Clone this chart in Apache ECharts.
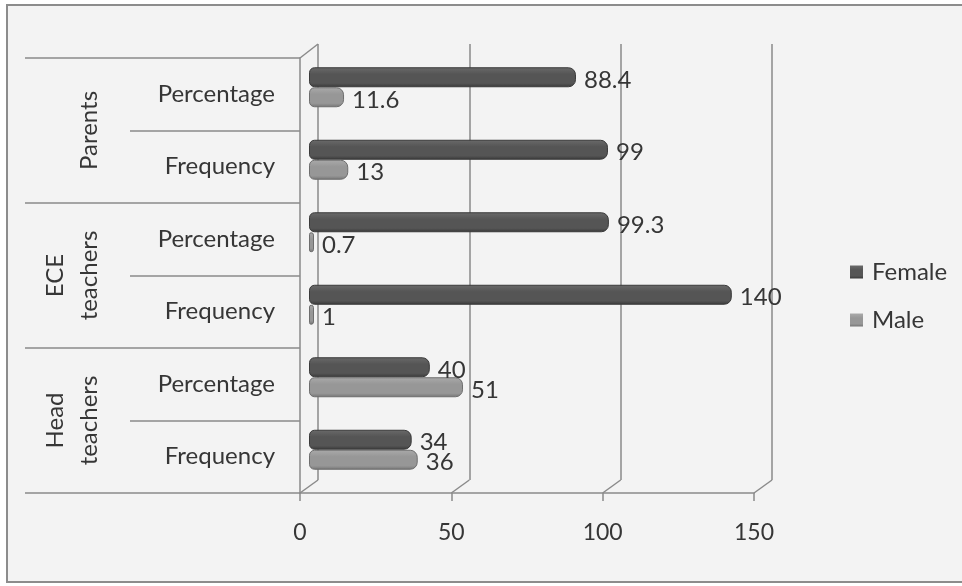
<!DOCTYPE html>
<html>
<head>
<meta charset="utf-8">
<title>Respondents by gender</title>
<script src="https://cdn.jsdelivr.net/npm/echarts@6/dist/echarts.min.js"></script>
<style>
  html, body { margin: 0; padding: 0; background: #ffffff; }
  #chart { width: 962px; height: 586px; }
</style>
</head>
<body>
<div id="chart"></div>
<script>
// Respondent groups (outer axis level) and measures (inner level), bottom to top
const groups = ['Head\nteachers', 'ECE\nteachers', 'Parents'];
const measures = ['Frequency', 'Percentage', 'Frequency', 'Percentage', 'Frequency', 'Percentage'];

// Values per measure row, same order as `measures`
const female = [34, 40, 140, 99.3, 99, 88.4];
const male = [36, 51, 1, 0.7, 13, 11.6];

// Value axis
const axisMin = 0;
const axisMax = 150;
const axisStep = 50;

const FONT = 'Lato, "Open Sans", sans-serif';
const TEXT = '#363636';
const LINE = '#8a8a8a';

const chart = echarts.init(document.getElementById('chart'));

function cylinder(top, mid, bottom) {
  return new echarts.graphic.LinearGradient(0, 0, 0, 1, [
    { offset: 0, color: top },
    { offset: 0.35, color: mid },
    { offset: 0.8, color: mid },
    { offset: 1, color: bottom }
  ]);
}

const valueLabel = {
  show: true,
  position: 'right',
  distance: 8,
  offset: [0, 3],
  fontFamily: FONT,
  fontSize: 24,
  color: TEXT
};

const option = {
  backgroundColor: '#ffffff',
  animation: false,
  grid: [
    // front plane: category labels, separators, value axis labels
    { left: 300, right: 208, top: 58, bottom: 93 },
    // bars
    { left: 309, right: 200, top: 51, bottom: 100 },
    // back wall gridlines
    { left: 318, right: 190, top: 44, bottom: 106 }
  ],
  xAxis: [
    {
      gridIndex: 0, type: 'value', min: axisMin, max: axisMax, interval: axisStep,
      axisLine: { show: true, lineStyle: { color: LINE, width: 1.5 } },
      axisTick: { show: true, length: 8, lineStyle: { color: LINE, width: 1.5 } },
      axisLabel: { margin: 28, fontFamily: FONT, fontSize: 23, color: TEXT },
      splitLine: { show: false }
    },
    {
      gridIndex: 1, type: 'value', min: axisMin, max: axisMax, interval: axisStep,
      show: false
    },
    {
      gridIndex: 2, type: 'value', min: axisMin, max: axisMax, interval: axisStep,
      axisLine: { show: false }, axisTick: { show: false }, axisLabel: { show: false },
      splitLine: { show: true, lineStyle: { color: LINE, width: 1.5 } }
    }
  ],
  yAxis: [
    {
      gridIndex: 0, type: 'category', position: 'left', data: measures,
      axisLine: { show: true, lineStyle: { color: LINE, width: 1.5 } },
      axisTick: { show: true, length: 170, interval: 0, lineStyle: { color: LINE, width: 1.5 } },
      axisLabel: { margin: 25, interval: 0, fontFamily: FONT, fontSize: 24, color: TEXT }
    },
    {
      gridIndex: 0, type: 'category', position: 'left', data: groups,
      axisLine: { show: false },
      axisTick: { show: true, length: 275, interval: 0, lineStyle: { color: LINE, width: 1.5 } },
      axisLabel: {
        margin: 194, interval: 0, rotate: 90, fontFamily: FONT, fontSize: 24,
        color: TEXT, lineHeight: 34
      }
    },
    {
      gridIndex: 1, type: 'category', data: measures, show: false
    },
    {
      gridIndex: 2, type: 'category', data: measures, show: false
    }
  ],
  legend: {
    orient: 'vertical',
    left: 845,
    top: 255,
    itemWidth: 13,
    itemHeight: 13,
    itemGap: 24,
    icon: 'rect',
    itemStyle: { borderWidth: 0 },
    data: ['Female', 'Male'],
    textStyle: { fontFamily: FONT, fontSize: 24, color: TEXT, padding: [0, 0, 0, 4] }
  },
  series: [
    {
      name: 'Female', type: 'bar', xAxisIndex: 1, yAxisIndex: 2,
      data: female,
      barWidth: 20,
      barGap: '0%',
      barMinHeight: 5,
      color: '#4f4f4f',
      itemStyle: {
        color: cylinder('#6a6a6a', '#555555', '#383838'),
        borderColor: '#3a3a3a', borderWidth: 1,
        borderRadius: [5, 7, 7, 5]
      },
      label: valueLabel
    },
    {
      name: 'Male', type: 'bar', xAxisIndex: 1, yAxisIndex: 2,
      data: male,
      barWidth: 20,
      barGap: '0%',
      barMinHeight: 5,
      color: '#999999',
      itemStyle: {
        color: cylinder('#aaaaaa', '#979797', '#747474'),
        borderColor: '#6e6e6e', borderWidth: 1,
        borderRadius: [5, 7, 7, 5]
      },
      label: valueLabel
    }
  ]
};

chart.setOption(option);

// Depth edges joining the front plane to the back wall, placed from the two axes' scales
const edges = [];
const front = (v, row) => chart.convertToPixel({ xAxisIndex: 0, yAxisIndex: 0 }, [v, row]);
const back = (v, row) => chart.convertToPixel({ xAxisIndex: 2, yAxisIndex: 3 }, [v, row]);
const frontRect = chart.getModel().getComponent('grid', 0).coordinateSystem.getRect();
const backRect = chart.getModel().getComponent('grid', 2).coordinateSystem.getRect();
for (let v = axisMin; v <= axisMax; v += axisStep) {
  const f = front(v, 0)[0];
  const b = back(v, 0)[0];
  edges.push({
    type: 'line', silent: true,
    shape: { x1: f, y1: frontRect.y + frontRect.height, x2: b, y2: backRect.y + backRect.height },
    style: { stroke: LINE, lineWidth: 1.5 }
  });
}
edges.push({
  type: 'line', silent: true,
  shape: { x1: frontRect.x, y1: frontRect.y, x2: backRect.x, y2: backRect.y },
  style: { stroke: LINE, lineWidth: 1.5 }
});
// chart frame
edges.push({
  type: 'rect', silent: true, z: -10,
  shape: { x: 7, y: 5, width: 980, height: 577 },
  style: { fill: '#f3f3f3', stroke: '#8c8c8c', lineWidth: 2 }
});
chart.setOption({ graphic: edges });
</script>
</body>
</html>
